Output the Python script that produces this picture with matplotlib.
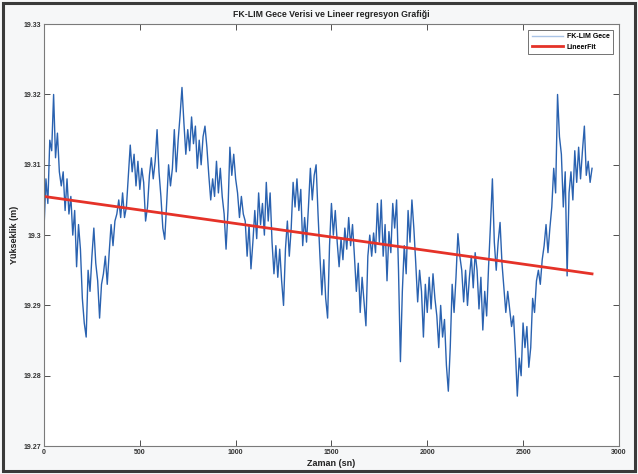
import numpy as np
import matplotlib
matplotlib.use("Agg")
import matplotlib.pyplot as plt
from matplotlib.ticker import FuncFormatter
from matplotlib.patches import Rectangle

# GNSS night-session height record (one sample every 10 s)
sample_step_s = 10
height_m = [
    19.3010, 19.3080, 19.3045, 19.3135, 19.3120, 19.3200, 19.3110, 19.3145, 19.3090, 19.3070,
    19.3090, 19.3035, 19.3080, 19.3030, 19.3055, 19.3000, 19.3035, 19.2955, 19.3015, 19.2980,
    19.2910, 19.2875, 19.2855, 19.2950, 19.2920, 19.2970, 19.3010, 19.2960, 19.2935, 19.2882,
    19.2930, 19.2945, 19.2970, 19.2930, 19.2975, 19.3015, 19.2985, 19.3020, 19.3030, 19.3050,
    19.3025, 19.3060, 19.3025, 19.3040, 19.3085, 19.3128, 19.3090, 19.3115, 19.3070, 19.3105,
    19.3065, 19.3095, 19.3075, 19.3020, 19.3040, 19.3085, 19.3110, 19.3080, 19.3105, 19.3150,
    19.3090, 19.3055, 19.3010, 19.2994, 19.3045, 19.3100, 19.3070, 19.3095, 19.3150, 19.3090,
    19.3135, 19.3170, 19.3210, 19.3160, 19.3115, 19.3150, 19.3120, 19.3168, 19.3130, 19.3155,
    19.3095, 19.3135, 19.3100, 19.3140, 19.3155, 19.3125, 19.3085, 19.3050, 19.3080, 19.3055,
    19.3105, 19.3060, 19.3095, 19.3055, 19.3030, 19.2980, 19.3035, 19.3125, 19.3085, 19.3115,
    19.3080, 19.3060, 19.3025, 19.3055, 19.3030, 19.3020, 19.2970, 19.3015, 19.2952, 19.2990,
    19.3035, 19.2995, 19.3060, 19.3015, 19.3045, 19.3000, 19.3075, 19.3020, 19.3060, 19.2990,
    19.2945, 19.2985, 19.2940, 19.2980, 19.2935, 19.2900, 19.2980, 19.3020, 19.2970, 19.3010,
    19.3075, 19.3040, 19.3080, 19.3035, 19.3065, 19.2985, 19.3025, 19.2990, 19.3040, 19.3095,
    19.3050, 19.3085, 19.3100, 19.3030, 19.2970, 19.2915, 19.2965, 19.2910, 19.2882, 19.2985,
    19.3045, 19.3000, 19.3035, 19.2990, 19.2955, 19.2995, 19.2965, 19.3010, 19.2980, 19.3025,
    19.2985, 19.3015, 19.2970, 19.2920, 19.2960, 19.2890, 19.2940, 19.2905, 19.2871, 19.2970,
    19.3000, 19.2970, 19.3003, 19.2975, 19.3045, 19.2990, 19.3050, 19.2970, 19.3015, 19.2935,
    19.3005, 19.2975, 19.3045, 19.3010, 19.3050, 19.2950, 19.2820, 19.2920, 19.2985, 19.2945,
    19.3035, 19.2990, 19.3050, 19.3010, 19.2960, 19.2905, 19.2950, 19.2920, 19.2855, 19.2930,
    19.2890, 19.2940, 19.2895, 19.2945, 19.2910, 19.2885, 19.2840, 19.2900, 19.2855, 19.2880,
    19.2815, 19.2778, 19.2840, 19.2930, 19.2890, 19.2940, 19.3002, 19.2970, 19.2950, 19.2905,
    19.2950, 19.2900, 19.2940, 19.2970, 19.2925, 19.2975, 19.2950, 19.2895, 19.2940, 19.2865,
    19.2920, 19.2885, 19.2955, 19.3015, 19.3080, 19.2990, 19.2950, 19.2990, 19.3018, 19.2960,
    19.2925, 19.2890, 19.2920, 19.2895, 19.2870, 19.2885, 19.2835, 19.2771, 19.2825, 19.2800,
    19.2875, 19.2840, 19.2870, 19.2812, 19.2840, 19.2910, 19.2890, 19.2935, 19.2950, 19.2930,
    19.2965, 19.2985, 19.3015, 19.2975, 19.3010, 19.3040, 19.3095, 19.3060, 19.3200, 19.3140,
    19.3115, 19.3040, 19.3090, 19.2942, 19.3060, 19.3090, 19.3050, 19.3120, 19.3075, 19.3125,
    19.3080, 19.3120, 19.3155, 19.3085, 19.3105, 19.3075, 19.3095,
]
time_s = np.arange(len(height_m)) * sample_step_s

# Linear regression line (intercept in m, slope in m/s)
fit_intercept = 19.3055
fit_slope = -3.85e-6

x_ticks = [0, 500, 1000, 1500, 2000, 2500, 3000]
y_ticks = [19.27, 19.28, 19.29, 19.30, 19.31, 19.32, 19.33]

plt.rcParams['font.family'] = ['Liberation Sans', 'DejaVu Sans']

fig = plt.figure(figsize=(6.38, 4.74), dpi=100, facecolor='#f6f7f8')
ax = fig.add_axes([0.069, 0.059, 0.901, 0.890])
ax.set_facecolor('white')

ax.plot(time_s, height_m, color='#2a62b0', lw=1.0, label='FK-LIM Gece')
fit_y = fit_intercept + fit_slope * time_s
ax.plot(time_s, fit_y, color='#e53228', lw=2.0, label='LineerFit')

ax.set_xlim(0, 3000)
ax.set_ylim(19.27, 19.33)
ax.set_xticks(x_ticks)
ax.set_yticks(y_ticks)
ax.yaxis.set_major_formatter(FuncFormatter(lambda v, p: f"{v:g}"))
ax.tick_params(direction='in', length=4, width=0.6, labelsize=5,
               top=True, right=True, colors='#333333', pad=2)
for lab in ax.get_xticklabels() + ax.get_yticklabels():
    lab.set_fontweight('bold')
for sp in ax.spines.values():
    sp.set_color('#7a7a7a')
    sp.set_linewidth(0.8)

ax.set_title('FK-LIM Gece Verisi ve Lineer regresyon Grafiği',
             fontsize=6.3, fontweight='bold', color='#222222', pad=5)
ax.set_xlabel('Zaman (sn)', fontsize=6.5, fontweight='bold', color='#222222', labelpad=2)
ax.set_ylabel('Yükseklik (m)', fontsize=6.5, fontweight='bold', color='#222222', labelpad=3)

leg = ax.legend(loc='upper right', frameon=True, fancybox=False,
                borderpad=0.5, handlelength=4.5, handletextpad=0.6,
                borderaxespad=0.8, prop={'size': 5, 'weight': 'bold'})
leg.get_frame().set_edgecolor('#333333')
leg.get_frame().set_linewidth(0.6)
leg.get_lines()[0].set_color('#aac4e6')

# outer frame around the figure
fig.patches.append(Rectangle((0.004, 0.006), 0.992, 0.988, transform=fig.transFigure,
                             fill=False, edgecolor='#3a3a3a', linewidth=2.2))

fig.savefig('out.png', dpi=100, facecolor=fig.get_facecolor())
